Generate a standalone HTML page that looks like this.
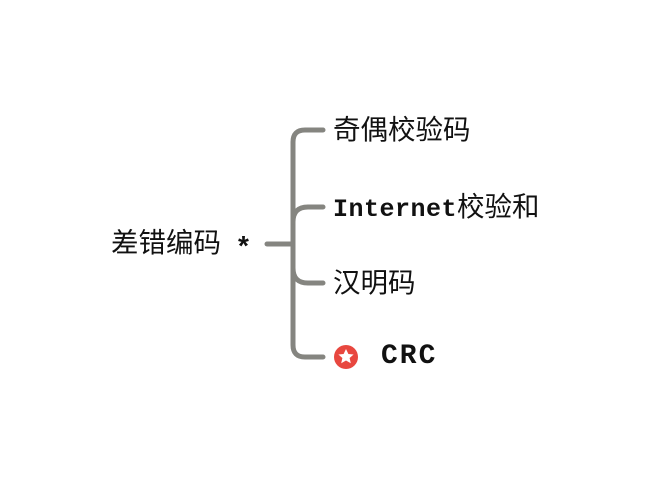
<!DOCTYPE html>
<html><head><meta charset="utf-8"><style>
body{margin:0;background:#fff;width:660px;height:488px;overflow:hidden}
.t{position:absolute;font-family:"Liberation Sans","Noto Sans CJK SC",sans-serif;font-size:27.5px;color:#111;line-height:1;white-space:nowrap}
.h{font-family:"Liberation Mono","Noto Sans CJK SC",monospace;font-weight:bold}
</style></head><body>
<svg width="660" height="488" style="position:absolute;left:0;top:0">
<g fill="none" stroke="#858580" stroke-width="5" stroke-linecap="round">
<path d="M267 244 H293"/>
<path d="M323 130 H305 Q293 130 293 142 V345 Q293 357 305 357 H323"/>
<path d="M323 207 H308 Q293 207 293 222"/>
<path d="M323 283 H308 Q293 283 293 268"/>
</g>
<circle cx="346" cy="357" r="12" fill="#e8473f"/>
<polygon points="346,349 348.4,354 353.6,354.5 349.6,358 350.8,363.3 346,360.5 341.2,363.3 342.4,358 338.4,354.5 343.6,354" fill="#fff"/>
</svg>
<div class="t" style="left:111px;top:229px">差错编码</div>
<div class="t" style="left:238px;top:232px;font-weight:bold;font-size:28px">*</div>
<div class="t" style="left:333px;top:116px">奇偶校验码</div>
<div class="t" style="left:333px;top:193px"><span class="h" style="font-size:25px;letter-spacing:0.5px">Internet</span>校验和</div>
<div class="t" style="left:333px;top:269px">汉明码</div>
<div class="t h" style="left:381px;top:343px;font-size:28px;letter-spacing:2px">CRC</div>
</body></html>
